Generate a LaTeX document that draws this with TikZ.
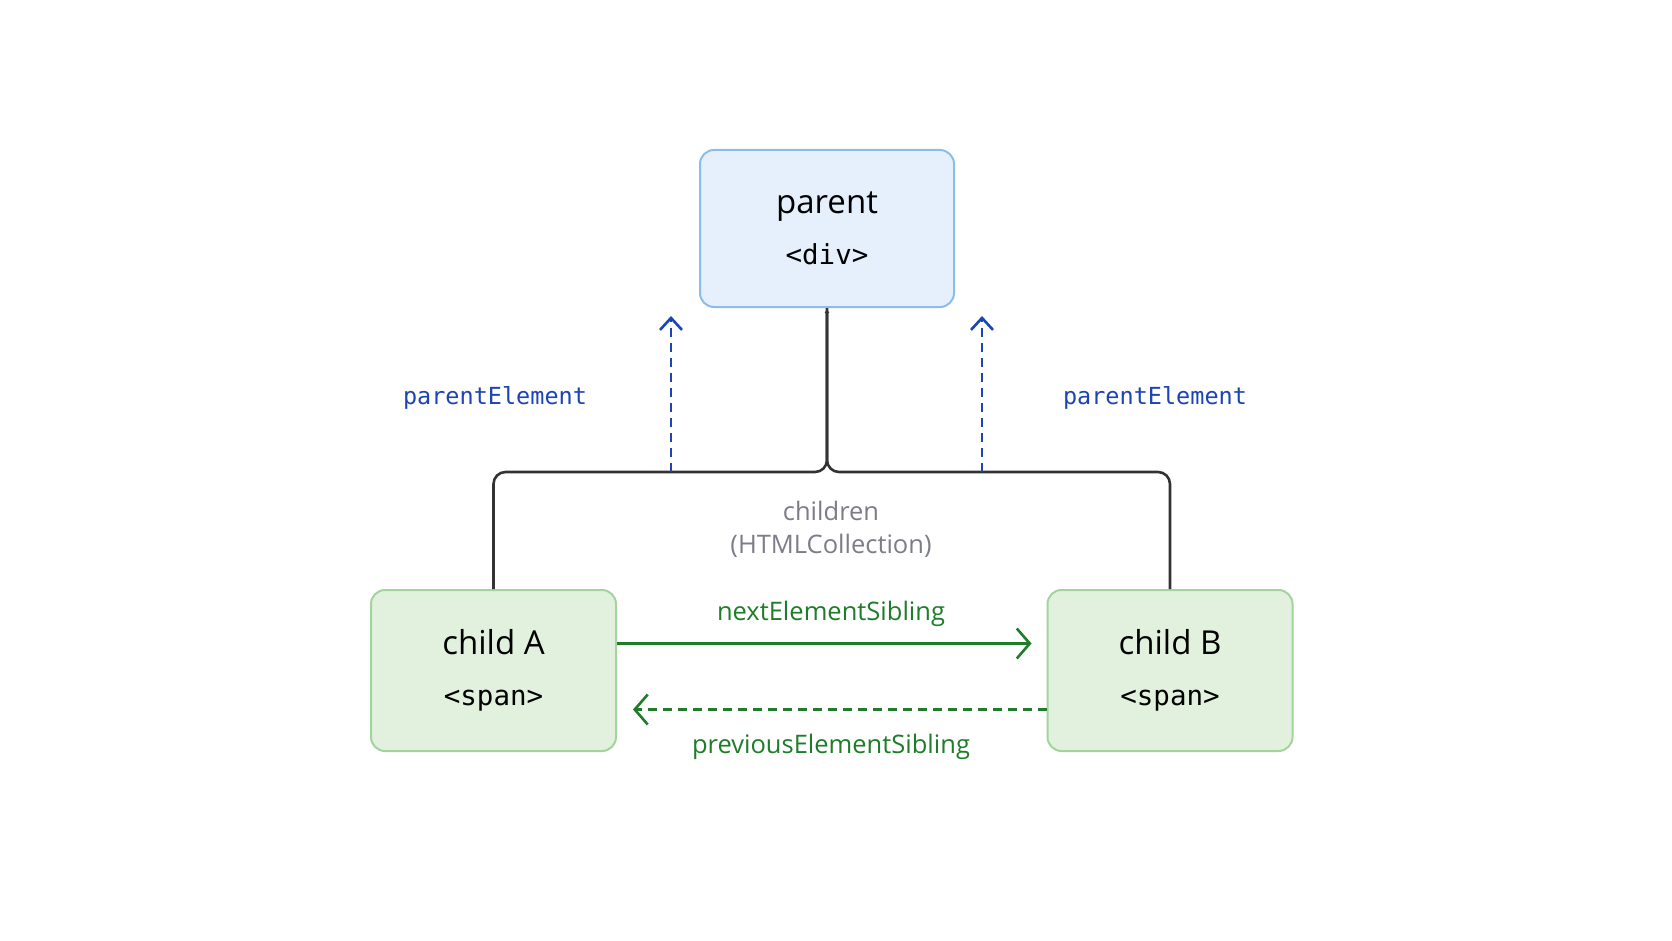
\documentclass[tikz,border=0pt]{standalone}
\usepackage{fontspec}
\setmainfont{Open Sans}
\setmonofont{DejaVu Sans Mono}
\usepackage{tikz}
\usetikzlibrary{arrows.meta,calc,positioning}
\definecolor{boxblue}{HTML}{E6F0FC}
\definecolor{lineblue}{HTML}{8CBDEA}
\definecolor{boxgreen}{HTML}{E1F1DD}
\definecolor{linegreen}{HTML}{A3D49E}
\definecolor{linkblue}{HTML}{1C44B4}
\definecolor{linkgreen}{HTML}{1F7D2A}
\definecolor{notegray}{HTML}{7D7D88}
\definecolor{treeline}{HTML}{333333}
\newcommand{\eltag}[1]{{\fontsize{27.5}{27.5}\selectfont\ttfamily #1}}

\begin{document}
\begin{tikzpicture}[x=1pt,y=-1pt,
    elbox/.style={rectangle,rounded corners=14pt,line width=2pt,align=center,
      font=\fontsize{33}{51}\selectfont},
    parentbox/.style={elbox,fill=boxblue,draw=lineblue,minimum width=254pt,minimum height=157pt},
    childbox/.style={elbox,fill=boxgreen,draw=linegreen,minimum width=245pt,minimum height=161pt},
    linklabel/.style={text=linkblue,font=\fontsize{23.5}{24}\selectfont\ttfamily},
    siblabel/.style={text=linkgreen,font=\fontsize{25.5}{26}\selectfont},
    notelabel/.style={text=notegray,font=\fontsize{25.5}{26}\selectfont},
    tree/.style={draw=treeline,line width=2.6pt,rounded corners=12pt},
    uplink/.style={draw=linkblue,line width=2.4pt,dash pattern=on 9pt off 6pt,
      -{Straight Barb[length=12pt,width=22pt,line width=2.6pt]}},
    siblink/.style={draw=linkgreen,line width=2.6pt,
      -{Straight Barb[length=13pt,width=30pt,line width=2.6pt]}}]
        \useasboundingbox[fill=white] (0,0) rectangle (1672,941);
        %Nodes
        \node[parentbox] (parent) at (827,228.5) {parent\\\eltag{<div>}};
        \node[childbox] (childA) at (493.5,670.5) {child A\\\eltag{<span>}};
        \node[childbox] (childB) at (1170,670.5) {child B\\\eltag{<span>}};
        %Tree
        \coordinate (bus) at (827,472);
        \draw[tree] (childA.north) |- (bus) -- (parent.south);
        \draw[tree,-{Latex[length=5pt,width=5pt]}] (childB.north) |- (bus) -- (parent.south);
        \node[notelabel] (children) at (831,511) {children};
        \node[notelabel] (coll) at (831,546) {(HTMLCollection)};
        %parentElement
        \coordinate (upA) at (671,472);
        \coordinate (upB) at (982,472);
        \coordinate (tipA) at (671,316);
        \coordinate (tipB) at (982,316);
        \draw[uplink] (upA) -- (tipA);
        \draw[uplink] (upB) -- (tipB);
        \node[linklabel] (peA) at (495,398) {parentElement};
        \node[linklabel] (peB) at (1155,398) {parentElement};
        %Siblings
        \draw[siblink] ([yshift=27pt]childA.east) -- ([xshift=-15pt,yshift=27pt]childB.west);
        \draw[siblink,dash pattern=on 9pt off 6pt] ([yshift=-39pt]childB.west) -- ([xshift=16pt,yshift=-39pt]childA.east);
        \node[siblabel] (next) at (831,614) {nextElementSibling};
        \node[siblabel] (prev) at (831,747) {previousElementSibling};
      \end{tikzpicture}
\end{document}
